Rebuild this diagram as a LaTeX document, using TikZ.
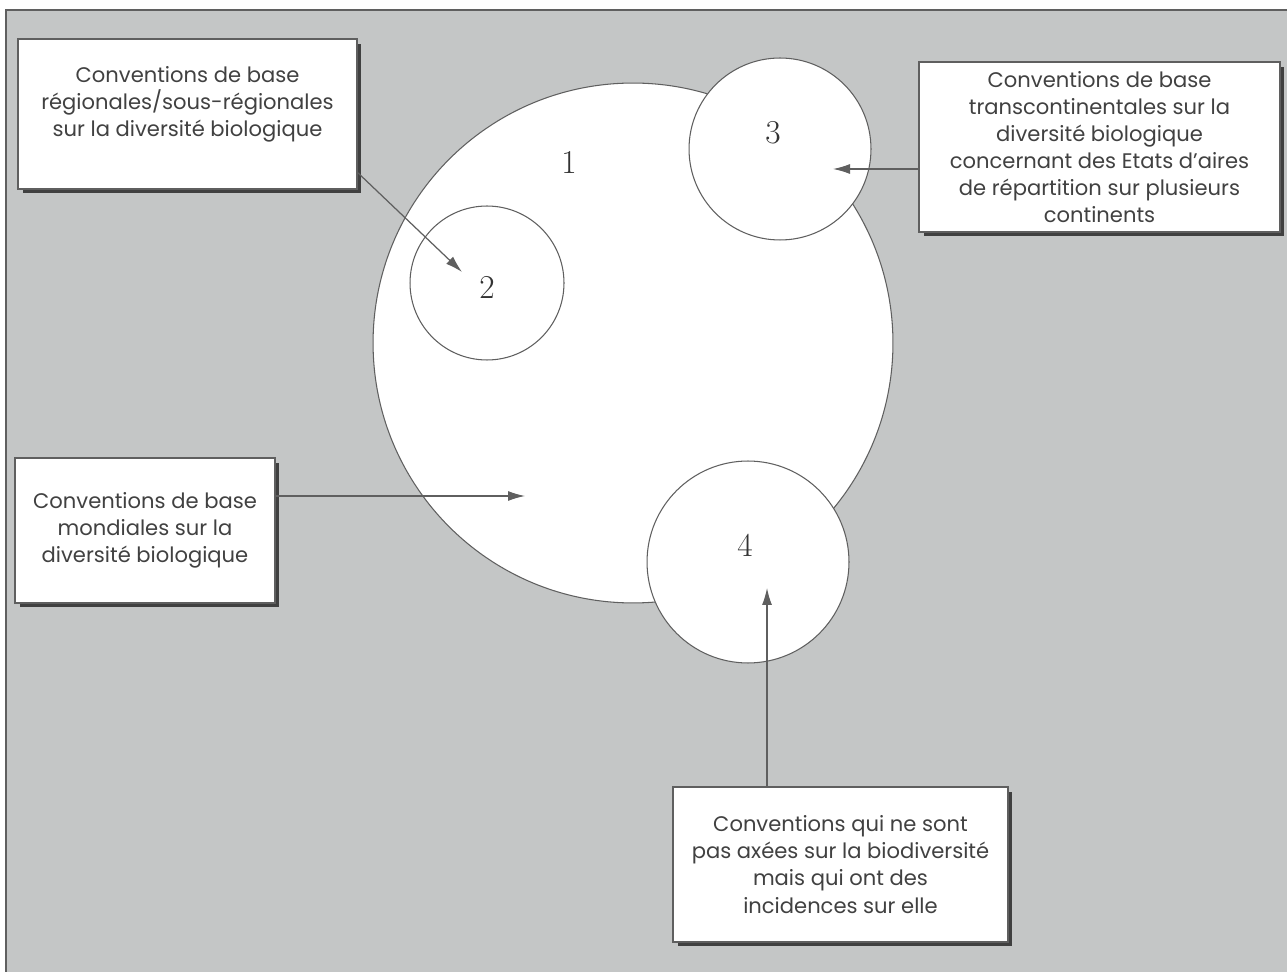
\documentclass[tikz,border=0pt]{standalone}
\usepackage{fontspec}
\setsansfont{Poppins}
\usetikzlibrary{arrows.meta,shadows}
\definecolor{bggray}{RGB}{196,198,198}
\definecolor{inkgray}{RGB}{65,65,65}
\definecolor{linegray}{RGB}{95,95,95}
\begin{document}
\begin{tikzpicture}[x=0.02cm,y=-0.02cm,
    box/.style={draw=linegray,line width=0.8pt,fill=white,text=inkgray,align=center,
      font=\sffamily\fontsize{12}{15.4}\selectfont,inner sep=0pt,
      drop shadow={shadow xshift=0.09cm,shadow yshift=-0.09cm,fill=black!75,opacity=1}},
    zone/.style={circle,draw=linegray,line width=0.6pt,fill=white,inner sep=0pt},
    num/.style={text=black!80,font=\fontsize{19}{21}\selectfont},
    arr/.style={draw=linegray,line width=0.7pt,-{Latex[length=0.34cm,width=0.2cm]}}]
        \useasboundingbox (0,0) rectangle (1287,972);
        \fill[white] (0,0) rectangle (1287,972);
        \fill[bggray] (6,10) rectangle (1287,972);
        \draw[linegray,line width=0.8pt] (6,972) -- (6,10) -- (1287,10);
        \node[zone,minimum size=10.4cm] at (633,343) (c1) {};
        \node[zone,minimum size=3.08cm] at (487,283) (c2) {};
        \node[zone,minimum size=3.64cm] at (780,149) (c3) {};
        \node[zone,minimum size=4.04cm] at (748,562) (c4) {};
        \node[num] at (569,162) (n1) {1};
        \node[num] at (487,287) (n2) {2};
        \node[num] at (773,133) (n3) {3};
        \node[num] at (745,545) (n4) {4};
        \node[box,minimum width=6.78cm,minimum height=3cm,text depth=14pt] at (187.5,114) (boxA) {Conventions de base\\régionales/sous-régionales\\sur la diversité biologique};
        \node[box,minimum width=7.22cm,minimum height=3.4cm] at (1099.5,147) (boxB) {Conventions de base\\transcontinentales sur la\\diversité biologique\\concernant des Etats d’aires\\de répartition sur plusieurs\\continents};
        \node[box,minimum width=5.2cm,minimum height=2.9cm] at (145,530.5) (boxC) {Conventions de base\\mondiales sur la\\diversité biologique};
        \node[box,minimum width=6.7cm,minimum height=3.1cm] at (840.5,864.5) (boxD) {Conventions qui ne sont\\pas axées sur la biodiversité\\mais qui ont des\\incidences sur elle};
        \coordinate (tip2) at (462,272);
        \coordinate (tip3) at (833,169);
        \coordinate (tip1) at (525,496);
        \coordinate (tip4) at (767,588);
        \draw[arr] (boxA.-19) -- (tip2);
        \draw[arr] (boxB.west |- tip3) -- (tip3);
        \draw[arr] (boxC.east |- tip1) -- (tip1);
        \draw[arr] (boxD.north -| tip4) -- (tip4);
    \end{tikzpicture}
\end{document}
